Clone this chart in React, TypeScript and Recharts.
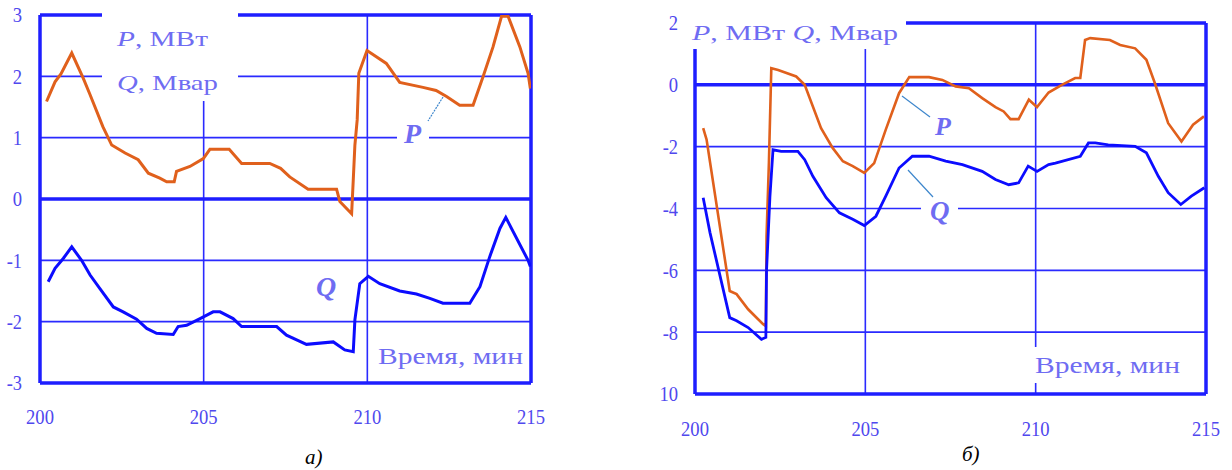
import React from "react";
import { LineChart, Line, XAxis, YAxis, CartesianGrid, ReferenceLine } from "recharts";

// ---------- Data: chart а) ----------
const TIME_A_P = [200.2, 200.46, 200.64, 200.97, 201.32, 201.53, 201.92, 202.19, 202.6, 203.0, 203.31, 203.66, 203.87, 204.1, 204.17, 204.58, 204.99, 205.19, 205.78, 206.16, 207.02, 207.35, 207.63, 208.19, 209.06, 209.16, 209.52, 209.57, 209.62, 209.69, 209.74, 209.99, 210.58, 210.99, 211.7, 212.1, 212.42, 212.82, 213.23, 213.54, 213.84, 214.1, 214.3, 214.66, 214.91, 214.98];
const VALUES_A_P = [1.59, 1.91, 2.04, 2.38, 1.97, 1.7, 1.18, 0.88, 0.75, 0.64, 0.42, 0.34, 0.28, 0.28, 0.45, 0.53, 0.66, 0.81, 0.81, 0.58, 0.58, 0.5, 0.36, 0.16, 0.16, -0.04, -0.24, 0.31, 0.88, 1.29, 2.05, 2.42, 2.21, 1.9, 1.82, 1.77, 1.67, 1.53, 1.53, 2.0, 2.48, 2.98, 2.98, 2.48, 2.05, 1.8];
const TIME_A_Q = [200.25, 200.46, 200.71, 200.97, 201.27, 201.53, 201.83, 202.24, 202.54, 202.95, 203.26, 203.56, 204.07, 204.22, 204.48, 204.89, 205.29, 205.5, 205.9, 206.16, 207.23, 207.53, 207.89, 208.14, 208.96, 209.31, 209.57, 209.62, 209.77, 210.03, 210.38, 210.99, 211.5, 211.91, 212.31, 213.13, 213.44, 213.74, 214.05, 214.23, 214.91, 214.98];
const VALUES_A_Q = [-1.35, -1.13, -0.97, -0.78, -1.0, -1.24, -1.46, -1.76, -1.84, -1.96, -2.11, -2.19, -2.21, -2.08, -2.06, -1.95, -1.84, -1.84, -1.95, -2.08, -2.08, -2.22, -2.31, -2.37, -2.33, -2.46, -2.49, -1.97, -1.38, -1.26, -1.38, -1.5, -1.55, -1.62, -1.7, -1.7, -1.43, -0.94, -0.48, -0.3, -1.0, -1.1];

// ---------- Data: chart б) ----------
const TIME_B_P = [200.24, 200.34, 201.02, 201.22, 201.56, 202.0, 202.08, 202.1, 202.17, 202.24, 202.44, 202.97, 203.22, 203.46, 203.7, 204.04, 204.34, 204.63, 204.97, 205.26, 205.6, 205.99, 206.29, 206.87, 207.26, 207.65, 208.04, 208.43, 208.82, 209.06, 209.26, 209.5, 209.8, 210.04, 210.38, 210.77, 211.16, 211.31, 211.45, 211.6, 212.18, 212.48, 212.92, 213.25, 213.5, 213.89, 214.28, 214.62, 214.94];
const VALUES_B_P = [-1.4, -1.77, -6.67, -6.77, -7.26, -7.74, -7.8, -4.9, -2.5, 0.54, 0.48, 0.27, 0.0, -0.7, -1.4, -2.04, -2.47, -2.63, -2.85, -2.53, -1.45, -0.27, 0.25, 0.25, 0.16, -0.05, -0.11, -0.43, -0.72, -0.86, -1.11, -1.11, -0.48, -0.72, -0.25, 0.0, 0.22, 0.22, 1.45, 1.51, 1.45, 1.29, 1.18, 0.81, 0.05, -1.24, -1.83, -1.29, -1.02];
const TIME_B_Q = [200.24, 200.44, 201.02, 201.22, 201.56, 201.95, 202.08, 202.1, 202.2, 202.29, 202.53, 203.02, 203.22, 203.46, 203.85, 204.24, 204.63, 204.97, 205.31, 205.6, 205.99, 206.38, 206.87, 207.36, 207.85, 208.43, 208.82, 209.21, 209.5, 209.78, 210.04, 210.38, 210.58, 211.31, 211.55, 211.75, 212.13, 212.92, 213.25, 213.6, 213.89, 214.26, 214.57, 214.95];
const VALUES_B_Q = [-3.65, -4.78, -7.53, -7.63, -7.85, -8.23, -8.17, -6.0, -3.6, -2.1, -2.15, -2.15, -2.42, -2.96, -3.65, -4.14, -4.35, -4.55, -4.25, -3.6, -2.69, -2.31, -2.31, -2.47, -2.58, -2.8, -3.06, -3.23, -3.17, -2.63, -2.8, -2.58, -2.53, -2.31, -1.88, -1.88, -1.94, -1.99, -2.2, -2.96, -3.49, -3.87, -3.6, -3.33];

// ---------- Ticks ----------
const X_TICKS = [200, 205, 210, 215];
const Y_TICKS_A = [-3, -2, -1, 0, 1, 2, 3];
const Y_TICKS_B = [2, 0, -2, -4, -6, -8, -10];
const Y_TICK_LABELS_B = ["2", "0", "-2", "-4", "-6", "-8", "10"];

const zip = (t: number[], v: number[]) => t.map((x, i) => ({ t: x, v: v[i] }));
const dataAP = zip(TIME_A_P, VALUES_A_P);
const dataAQ = zip(TIME_A_Q, VALUES_A_Q);
const dataBP = zip(TIME_B_P, VALUES_B_P);
const dataBQ = zip(TIME_B_Q, VALUES_B_Q);

const AXIS_BLUE = "#1e1eff";
const GRID_BLUE = "#2a2aff";
const P_COLOR = "#e0601c";
const Q_COLOR = "#0c0cff";
const LABEL_COLOR = "#6f6cf2";
const TICK_COLOR = "#5048ee";
const FONT = "'Liberation Serif', 'Times New Roman', serif";

const tickLen = (s: string) => s.split("").reduce((a, c) => a + (c === "-" ? 6 : 9.3), 0);

const XTick = (props: any) => {
  const { x, y, payload } = props;
  const s = String(payload.value);
  return (
    <text x={x} y={y} dy="0.71em" textAnchor="middle" fontFamily={FONT} fontSize={21} fill={TICK_COLOR}
      textLength={tickLen(s)} lengthAdjust="spacingAndGlyphs">{s}</text>
  );
};

const makeYTick = (labels?: { ticks: number[]; labels: string[] }) => (props: any) => {
  const { x, y, payload } = props;
  let s = String(payload.value);
  if (labels) {
    const i = labels.ticks.indexOf(payload.value);
    if (i >= 0) s = labels.labels[i];
  }
  return (
    <text x={x} y={y} dy="0.355em" textAnchor="end" fontFamily={FONT} fontSize={21} fill={TICK_COLOR}
      textLength={tickLen(s)} lengthAdjust="spacingAndGlyphs">{s}</text>
  );
};

const YTickA = makeYTick();
const YTickB = makeYTick({ ticks: Y_TICKS_B, labels: Y_TICK_LABELS_B });

const Border = ({ x0, x1, y0, y1 }: { x0: number; x1: number; y0: number; y1: number }) => null;

export default function App() {
  return (
    <div style={{ position: "absolute", left: 0, top: 0, width: 1232, height: 470, background: "#fff", overflow: "hidden" }}>
      <div style={{ position: "absolute", left: 0, top: 0 }}>
        <LineChart width={560} height={430} margin={{ top: 15, right: 29, bottom: 0, left: 0 }}>
          <CartesianGrid stroke={GRID_BLUE} strokeWidth={1.6} />
          <XAxis type="number" dataKey="t" domain={[200, 215]} ticks={X_TICKS} height={47} tickSize={0} tickMargin={26}
            axisLine={false} tickLine={false} tick={<XTick />} allowDataOverflow />
          <YAxis type="number" domain={[-3, 3]} ticks={Y_TICKS_A} width={40} tickSize={0} tickMargin={18}
            axisLine={false} tickLine={false} tick={<YTickA />} allowDataOverflow />
          <ReferenceLine y={0} stroke={AXIS_BLUE} strokeWidth={3.5} />
          <ReferenceLine y={3} stroke={AXIS_BLUE} strokeWidth={3.5} />
          <ReferenceLine y={-3} stroke={AXIS_BLUE} strokeWidth={3.5} />
          <ReferenceLine x={200} stroke={AXIS_BLUE} strokeWidth={3.5} />
          <ReferenceLine x={215} stroke={AXIS_BLUE} strokeWidth={3.5} />
          <Line data={dataAP} dataKey="v" type="linear" stroke={P_COLOR} strokeWidth={3} dot={false} isAnimationActive={false} />
          <Line data={dataAQ} dataKey="v" type="linear" stroke={Q_COLOR} strokeWidth={3} dot={false} isAnimationActive={false} />
        </LineChart>
      </div>
      <div style={{ position: "absolute", left: 640, top: 0 }}>
        <LineChart width={592} height={440} margin={{ top: 23, right: 26, bottom: 0, left: 0 }}>
          <CartesianGrid stroke={GRID_BLUE} strokeWidth={1.6} />
          <XAxis type="number" dataKey="t" domain={[200, 215]} ticks={X_TICKS} height={46} tickSize={0} tickMargin={27}
            axisLine={false} tickLine={false} tick={<XTick />} allowDataOverflow />
          <YAxis type="number" domain={[-10, 2]} ticks={Y_TICKS_B} width={55} tickSize={0} tickMargin={17}
            axisLine={false} tickLine={false} tick={<YTickB />} allowDataOverflow />
          <ReferenceLine y={0} stroke={AXIS_BLUE} strokeWidth={3.5} />
          <ReferenceLine y={2} stroke={AXIS_BLUE} strokeWidth={3.5} />
          <ReferenceLine y={-10} stroke={AXIS_BLUE} strokeWidth={3.5} />
          <ReferenceLine x={200} stroke={AXIS_BLUE} strokeWidth={3.5} />
          <ReferenceLine x={215} stroke={AXIS_BLUE} strokeWidth={3.5} />
          <Line data={dataBP} dataKey="v" type="linear" stroke={P_COLOR} strokeWidth={2.6} dot={false} isAnimationActive={false} />
          <Line data={dataBQ} dataKey="v" type="linear" stroke={Q_COLOR} strokeWidth={2.8} dot={false} isAnimationActive={false} />
        </LineChart>
      </div>
      <svg width={1232} height={470} style={{ position: "absolute", left: 0, top: 0, pointerEvents: "none" }} fontFamily={FONT}>
        {/* chart а) annotations */}
        <rect x={102} y={6} width={136} height={95} fill="#fff" />
        <text x={117} y={46} fontSize={22} fill={LABEL_COLOR} textLength={91} lengthAdjust="spacingAndGlyphs">
          <tspan fontStyle="italic">P</tspan>, МВт
        </text>
        <text x={117} y={90} fontSize={22} fill={LABEL_COLOR} textLength={101} lengthAdjust="spacingAndGlyphs">
          <tspan fontStyle="italic">Q</tspan>, Мвар
        </text>
        <rect x={397} y={122} width={32} height={24} fill="#fff" />
        <text x={404} y={143} fontSize={28} fontStyle="italic" fontWeight="bold" fill={LABEL_COLOR}>P</text>
        <line x1={443} y1={97} x2={428} y2={121} stroke="#3d86cc" strokeWidth={1.2} strokeDasharray="2 1" />
        <text x={316} y={296} fontSize={28} fontStyle="italic" fontWeight="bold" fill={LABEL_COLOR}>Q</text>
        <rect x={374} y={338} width={152} height={37} fill="#fff" />
        <text x={378} y={364} fontSize={23} fill={LABEL_COLOR} textLength={145} lengthAdjust="spacingAndGlyphs">Время, мин</text>
        <text x={305} y={464} fontSize={21} fontStyle="italic" fill="#000">а)</text>

        {/* chart б) annotations */}
        <rect x={686} y={6} width={220} height={43} fill="#fff" />
        <text x={692} y={40} fontSize={22} fill={LABEL_COLOR} textLength={206} lengthAdjust="spacingAndGlyphs">
          <tspan fontStyle="italic">P</tspan>, МВт <tspan fontStyle="italic">Q</tspan>, Мвар
        </text>
        <text x={935} y={135} fontSize={26} fontStyle="italic" fontWeight="bold" fill={LABEL_COLOR}>P</text>
        <line x1={902} y1={96} x2={930} y2={117} stroke="#3d86cc" strokeWidth={1.2} />
        <rect x={921} y={196} width={37} height={28} fill="#fff" />
        <text x={930} y={220} fontSize={27} fontStyle="italic" fontWeight="bold" fill={LABEL_COLOR}>Q</text>
        <line x1={908} y1={170} x2={933} y2={197} stroke="#3d86cc" strokeWidth={1.2} />
        <rect x={1030} y={347} width={156} height={36} fill="#fff" />
        <text x={1035} y={373} fontSize={23} fill={LABEL_COLOR} textLength={145} lengthAdjust="spacingAndGlyphs">Время, мин</text>
        <text x={962} y={461} fontSize={21} fontStyle="italic" fill="#000">б)</text>
      </svg>
    </div>
  );
}
